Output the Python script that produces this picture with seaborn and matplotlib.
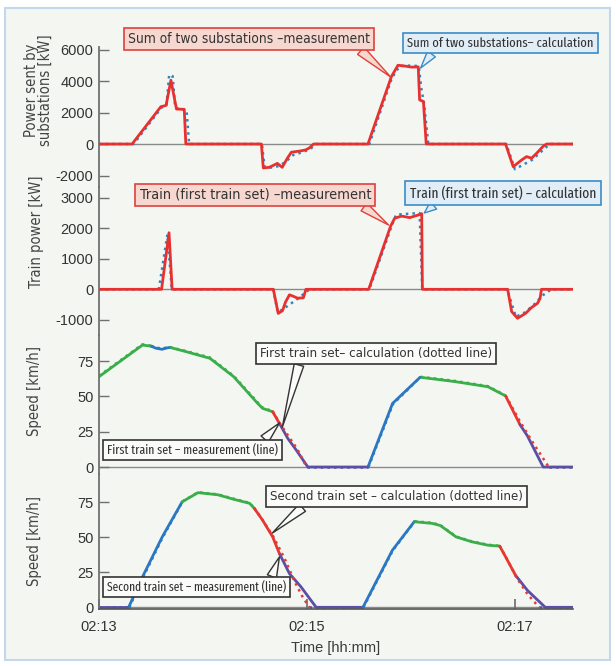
import os
import numpy as np
import pandas as pd
import seaborn as sns
import matplotlib
matplotlib.use("Agg")
import matplotlib.pyplot as plt
from matplotlib import font_manager
from matplotlib.font_manager import FontProperties
from matplotlib.patches import Rectangle

# time in seconds after 02:13:00
tick_pos = [0, 120, 240]
tick_labels = ["02:13", "02:15", "02:17"]

# sum of two substations [kW]
t1_meas = [0, 19.1, 35.7, 38.7, 41.5, 44.7, 49.2, 50.1, 93.7, 94.8, 98.3, 102.9, 105.7, 108.7, 111, 115.7, 119.1,
           121.4, 123.8, 155.2, 168.7, 172.5, 176.4, 180.4, 184.2, 185, 187.2, 188.8, 234.6, 239, 243.8, 246.7,
           249.6, 252.5, 256.4, 258.3, 273.5]
p1_meas = [0, 0, 2370, 2450, 4050, 2220, 2200, 0, 0, -1520, -1480, -1230, -1480, -900, -520, -450, -380,
           -250, 0, 0, 4275, 5000, 4950, 4880, 4900, 2800, 2700, 0, 0, -1440, -1020, -800,
           -900, -590, -130, 0, 0]
t1_calc = [0, 20, 36, 39, 40.5, 42.5, 44, 50.5, 52, 94, 95.5, 99, 104, 108, 112, 118, 122, 125.5, 156, 169,
           173.5, 178, 184.5, 186, 187.5, 190, 235, 240, 245, 250, 255, 260, 273.5]
p1_calc = [0, 0, 2300, 2500, 4400, 4300, 2300, 2150, 0, 0, -1450, -1500, -1400, -1100, -700, -500, -300, 0, 0, 4200,
           4950, 4980, 4950, 3500, 2600, 0, 0, -1600, -1300, -1000, -500, 0, 0]

# train power, first train set [kW]
t2_meas = [0, 36.1, 40.4, 42.2, 100.6, 103.4, 105.9, 107.6, 109.9, 112.2, 114.5, 117.9, 119.4, 155.6, 168.3,
           170.6, 174.6, 179.3, 185, 186.2, 186.6, 235.8, 238.1, 241.5, 246.1, 249.5, 253, 254.5, 255.3, 273.5]
p2_meas = [0, 0, 1855, 0, 0, -790, -700, -420, -180, -230, -290, -280, 0, 0, 2075,
           2330, 2400, 2350, 2450, 2480, 0, 0, -730, -950, -790, -600, -460, -300, 0, 0]
t2_calc = [0, 34.5, 39.5, 42, 100.5, 103.2, 110, 116, 121.5, 156, 169, 171.5, 185, 186.5, 235.5, 240.5, 246,
           251, 256, 261, 273.5]
p2_calc = [0, 0, 1800, 0, 0, -760, -500, -250, 0, 0, 2100, 2450, 2500, 0, 0, -900, -750,
           -500, -200, 0, 0]

# speed of first train set [km/h], mode per point
t3_meas = [0, 25.1, 30, 30, 33, 36.4, 39.3, 41, 41, 50.3, 64, 77.7, 91.5, 94.4, 100.2, 100.2, 104.1,
           104.1, 108.9, 113.8, 120.5, 155.2, 155.2, 169.4, 185.3, 185.3, 205, 224.4, 234.6, 234.6, 242.9,
           242.9, 247.2, 256.3, 273.5]
v3_meas = [63.9, 86.3, 85.5, 85.5, 84, 83.3, 84.3, 84.6, 84.6, 81.6, 76.9, 63.9, 45.1, 41.5, 39.1, 39.1, 30.9,
           30.9, 20.3, 12, 0, 0, 0, 45, 63.5, 63.5, 60.5, 56.8, 50.3, 50.3, 30,
           30, 22, 0, 0]
m3_meas = (["coast"] * 3 + ["power"] * 5 + ["coast"] * 7 + ["brake"] * 2 + ["mech"] * 5 + ["power"] * 3
           + ["coast"] * 4 + ["brake"] * 2 + ["mech"] * 4)
t3_calc = [0, 25.1, 30, 30, 33, 36.4, 39.3, 41, 41, 50.3, 64, 77.7, 91.5, 94.4, 100.2, 100.2, 104.5, 109.5,
           114.5, 119.8, 119.8, 155.5, 155.5, 169.6, 185.6, 185.6, 205, 224.4, 234.6, 234.6, 243, 250.5, 259.5,
           259.5, 273.5]
v3_calc = [64.5, 86.8, 85.8, 85.8, 84.5, 83.8, 84.6, 84.8, 84.8, 82, 77.5, 64.5, 45.8, 42, 39.5, 39.5, 30.5, 21.5,
           12.5, 0, 0, 0, 0, 44.5, 63.8, 63.8, 61, 57.2, 50.6, 50.6, 32, 17, 0,
           0, 0]
m3_calc = (["coast"] * 3 + ["power"] * 5 + ["coast"] * 7 + ["brake"] * 5 + ["stop"] * 2 + ["power"] * 3
           + ["coast"] * 4 + ["brake"] * 4 + ["stop"] * 2)

# speed of second train set [km/h]
t4_meas = [0, 17.1, 17.1, 25.1, 36.5, 48, 48, 57.1, 68.6, 77.7, 86.9, 89.6, 89.6, 94.4, 100.2, 104.1,
           104.1, 109.9, 116.6, 125.3, 152.3, 152.3, 169.3, 181.9, 181.9, 192.3, 196.9, 206, 215.1, 224.3, 231.2,
           231.2, 234.6, 240.3, 240.3, 247.2, 257.5, 273.5]
v4_meas = [0, 0, 0, 21.7, 50.2, 75.2, 75.2, 81.7, 80.2, 77, 74.1, 70.5, 70.5, 62.1, 50.2, 38.3,
           38.3, 24, 14.5, 0, 0, 0, 40.7, 61, 61, 59.8, 58.3, 50.2, 46.7, 44.3, 43.6,
           43.6, 36, 22.9, 22.9, 12.1, 0, 0]
m4_meas = (["mech"] * 2 + ["power"] * 4 + ["coast"] * 6 + ["brake"] * 4 + ["mech"] * 5 + ["power"] * 3
           + ["coast"] * 7 + ["brake"] * 3 + ["mech"] * 4)
t4_calc = [0, 17.5, 17.5, 25.5, 36.8, 48.3, 48.3, 57.1, 68.6, 77.7, 86.9, 89.6, 89.6, 95, 100.5, 107, 113, 117.6,
           121.4, 121.4, 152.6, 152.6, 169.5, 182.2, 182.2, 192.3, 196.9, 206, 215.1, 224.3, 231.2, 231.2, 236,
           241, 247.5, 254, 254, 273.5]
v4_calc = [0, 0, 0, 21.5, 50, 75.5, 75.5, 82, 80.5, 77.4, 74.4, 70.8, 70.8, 61, 50.5, 35, 18, 7.1,
           0, 0, 0, 0, 40.5, 61.3, 61.3, 60.2, 58.6, 50.5, 47, 44.6, 43.8, 43.8, 33,
           21, 9, 0, 0, 0]
m4_calc = (["stop"] * 2 + ["power"] * 4 + ["coast"] * 6 + ["brake"] * 7 + ["stop"] * 2 + ["power"] * 3
           + ["coast"] * 7 + ["brake"] * 5 + ["stop"] * 2)

pal = {"coast": "#3aae49", "power": "#2b78c2", "brake": "#e8372f", "mech": "#5a4fa6", "stop": "#5a4fa6"}
red = "#e8312f"
blue = "#2d86c4"

sns.set_theme(style="white")
plt.rcParams["font.family"] = ["Liberation Sans", "DejaVu Sans"]
plt.rcParams["axes.unicode_minus"] = False

# look for condensed sans faces, the callouts use a narrow font
faces = {}
for f in font_manager.fontManager.ttflist:
    b = os.path.basename(f.fname).lower()
    if f.style != "normal" or f.weight not in (400, "normal", "regular"):
        continue
    if "sans" not in f.name.lower() or "mono" in f.name.lower():
        continue
    if "extracondensed" in b:
        faces.setdefault("extra", f.fname)
    elif "semicondensed" in b:
        faces.setdefault("semi", f.fname)
    elif "condensed" in b or "narrow" in b:
        faces.setdefault("cond", f.fname)
    elif f.stretch == "condensed":
        faces.setdefault("other", f.fname)


def pick(order):
    for k in order:
        if k in faces:
            return FontProperties(fname=faces[k])
    return FontProperties(family=["Liberation Sans", "DejaVu Sans"])


narrow_fp = pick(["cond", "semi", "other", "extra"])
tight_fp = pick(["extra", "cond", "semi", "other"])


def seg_frame(t, v, m):
    df = pd.DataFrame({"t": t, "v": v, "mode": m})
    df["seg"] = (df["mode"] != df["mode"].shift()).cumsum()
    return df


callouts = []


def callout(ax, text, xy, xytext, fc, ec, relpos, box_px, fp=None):
    fp = (fp or narrow_fp).copy()
    fp.set_size(10.5)
    a = ax.annotate(text, xy=xy, xytext=xytext, ha="center", va="center", fontproperties=fp,
                    color="#333333", annotation_clip=False, zorder=10,
                    bbox=dict(boxstyle="square,pad=0.3", fc=fc, ec=ec, lw=1.2),
                    arrowprops=dict(arrowstyle="wedge,tail_width=0.7,shrink_factor=0.5", mutation_scale=10,
                                    fc=fc, ec=ec, lw=1.0, shrinkA=0, shrinkB=0, relpos=relpos))
    callouts.append((a, box_px))


fig = plt.figure(figsize=(6.16, 6.66), dpi=100, facecolor="white")
fig.patches.append(Rectangle((5 / 616, 1 - 660 / 666), 605 / 616, 652 / 666, transform=fig.transFigure,
                             fc="#f4f6f2", ec="#c3d8ea", lw=1.5, zorder=-5))

left, width = 99 / 616, 474 / 616
rows = [(47, 187), (187, 335), (335, 474), (474, 609)]
axes = []
for top, bot in rows:
    axes.append(fig.add_axes([left, 1 - bot / 666, width, (bot - top) / 666]))

ylims = [(-2730, 6159), (-1498, 3354), (-4.95, 93.4), (-1.2, 95)]
yticks = [[-2000, 0, 2000, 4000, 6000], [-1000, 0, 1000, 2000, 3000], [0, 25, 50, 75], [0, 25, 50, 75]]
ylabels = ["Power sent by\nsubstations [kW]", "Train power [kW]", "Speed [km/h]", "Speed [km/h]"]
label_pos = [(-0.097, 0.69), (-0.116, 0.70), (-0.12, 0.60), (-0.12, 0.50)]

# power panels
sns.lineplot(x=t1_calc, y=p1_calc, ax=axes[0], color=blue, lw=1.8, linestyle=":", sort=False)
sns.lineplot(x=t1_meas, y=p1_meas, ax=axes[0], color=red, lw=2, sort=False)
sns.lineplot(x=t2_calc, y=p2_calc, ax=axes[1], color=blue, lw=1.8, linestyle=":", sort=False)
sns.lineplot(x=t2_meas, y=p2_meas, ax=axes[1], color=red, lw=2, sort=False)

# speed panels
for ax, meas, calc in [(axes[2], (t3_meas, v3_meas, m3_meas), (t3_calc, v3_calc, m3_calc)),
                       (axes[3], (t4_meas, v4_meas, m4_meas), (t4_calc, v4_calc, m4_calc))]:
    dm = seg_frame(*meas)
    dc = seg_frame(*calc)
    sns.lineplot(data=dm, x="t", y="v", hue="mode", units="seg", estimator=None, palette=pal,
                 lw=2, sort=False, legend=False, ax=ax)
    sns.lineplot(data=dc, x="t", y="v", hue="mode", units="seg", estimator=None, palette=pal,
                 lw=1.8, linestyle=":", sort=False, legend=False, ax=ax)

for i, ax in enumerate(axes):
    ax.set_facecolor("none")
    ax.set_xlim(0, 273.5)
    ax.set_ylim(*ylims[i])
    ax.set_yticks(yticks[i])
    ax.axhline(0, color="#8a8a8a", lw=1, zorder=0.5)
    for s in ["top", "right", "bottom"]:
        ax.spines[s].set_visible(False)
    ax.spines["left"].set_color("#707070")
    ax.spines["left"].set_linewidth(1.3)
    ax.tick_params(axis="y", direction="in", length=7, width=1, color="#707070", labelsize=10.5,
                   labelcolor="#333333", pad=4, left=True)
    lfp = narrow_fp.copy()
    lfp.set_size(10.5)
    ax.set_ylabel(ylabels[i], fontproperties=lfp, color="#444444", linespacing=0.95)
    ax.yaxis.set_label_coords(*label_pos[i])
    ax.set_xlabel("")
    if i < 3:
        ax.tick_params(axis="x", bottom=False, labelbottom=False)

ax = axes[3]
ax.spines["bottom"].set_visible(True)
ax.spines["bottom"].set_color("#555555")
ax.spines["bottom"].set_linewidth(1.2)
ax.set_xticks(tick_pos)
ax.set_xticklabels(tick_labels)
ax.tick_params(axis="x", direction="in", length=7, color="#707070", labelsize=10.5, labelcolor="#333333",
               pad=8, bottom=True)
ax.set_xlabel("Time [hh:mm]", fontsize=10.5, color="#3a3a3a", labelpad=5)

# callout boxes
pink, pink_ec = "#f7d8d0", "#e0403a"
sky, sky_ec = "#e2eef7", "#3a8cc8"
white, black = "#fbfbf9", "#333333"
callout(axes[0], "Sum of two substations \u2013measurement", (168.3, 4254), (86.5, 6667), pink, pink_ec, (0.94, 0), 251)
callout(axes[0], "Sum of two substations\u2013 calculation", (185.6, 4825), (231.6, 6413), sky, sky_ec, (0.15, 0), 196,
        tight_fp)
callout(axes[1], "Train (first train set) \u2013measurement", (167.1, 2108), (90.2, 3092), pink, pink_ec, (0.94, 0), 242)
callout(axes[1], "Train (first train set) \u2013 calculation", (187.7, 2502), (233.1, 3157), sky, sky_ec, (0.16, 0), 196,
        tight_fp)
callout(axes[2], "First train set\u2013 calculation (dotted line)", (105.8, 28.3), (159.6, 80), white, black, (0.175, 0), 242)
callout(axes[2], "First train set \u2013 measurement (line)", (104.1, 31.1), (53.8, 12), white, black, (0.9, 1), 180,
        tight_fp)
callout(axes[3], "Second train set \u2013 calculation (dotted line)", (100, 52.9), (171.5, 78.9), white, black, (0.15, 0), 261)
callout(axes[3], "Second train set \u2013 measurement (line)", (104.1, 35.9), (56.4, 14.3), white, black, (0.91, 1), 189,
        tight_fp)

# scale the callout fonts so the boxes get the width of the original
fig.canvas.draw()
r = fig.canvas.get_renderer()
for a, w in callouts:
    cur = a.get_bbox_patch().get_window_extent(r).width
    a.set_fontsize(a.get_fontsize() * w / cur)

fig.savefig("out.png", dpi=100, facecolor="white")
